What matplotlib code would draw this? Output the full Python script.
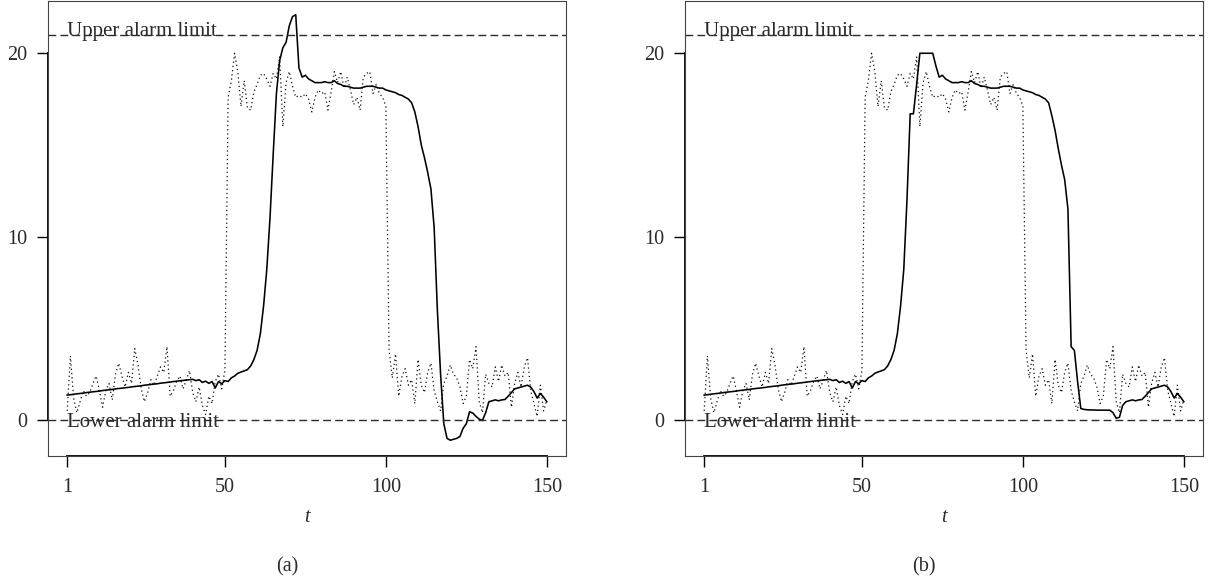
import numpy as np
import matplotlib
matplotlib.use('Agg')
import matplotlib.pyplot as plt

plt.rcParams['font.family'] = ['Liberation Serif', 'DejaVu Serif']

# time index
t = np.arange(1, 151)

# observed series (dotted), same in both panels
obs = [0.5, 3.5, 1.2, 0.4, 1.0, 1.6, 1.3, 1.5, 2.0, 2.4,
       1.6, 0.7, 1.6, 2.0, 1.1, 2.5, 3.1, 2.4, 1.8, 2.6,
       2.0, 3.9, 3.0, 1.7, 1.0, 1.5, 2.2, 1.9, 2.4, 2.9,
       2.6, 4.0, 1.3, 1.6, 2.1, 2.4, 1.7, 2.2, 2.7, 1.5,
       1.0, 1.8, 0.8, 0.3, 1.3, 0.9, 2.1, 2.5, 1.7, 2.7,
       17.6, 18.5, 20.0, 19.0, 17.1, 18.5, 17.0, 16.9, 17.9, 18.3,
       18.8, 18.9, 18.6, 18.2, 18.9, 18.6, 19.8, 16.0, 18.4, 19.0,
       18.2, 17.6, 17.7, 17.6, 17.8, 17.5, 16.8, 17.6, 18.0, 17.8,
       17.9, 16.9, 17.9, 19.0, 18.4, 19.0, 18.1, 18.7, 18.0, 17.2,
       17.6, 16.9, 18.7, 18.9, 19.0, 17.8, 18.3, 17.8, 17.6, 17.1,
       3.8, 2.3, 3.6, 1.3, 2.4, 2.8, 1.9, 2.2, 0.9, 3.3,
       1.9, 1.5, 2.6, 3.1, 1.6, 1.0, 0.5, 2.0, 2.4, 3.0,
       2.5, 2.3, 1.8, 0.9, 1.3, 3.3, 2.8, 4.0, 1.0, 0.4,
       2.5, 2.0, 1.8, 2.9, 2.1, 3.0, 2.4, 2.6, 0.7, 2.0,
       2.6, 1.8, 2.9, 3.4, 1.6, 0.9, 0.2, 1.9, 0.5, 1.1]

# estimate (solid), panel (a)
est_a = [1.36, 1.38, 1.41, 1.43, 1.45, 1.47, 1.50, 1.52, 1.54, 1.56,
         1.58, 1.61, 1.63, 1.65, 1.67, 1.70, 1.72, 1.74, 1.76, 1.78,
         1.81, 1.83, 1.85, 1.87, 1.90, 1.92, 1.94, 1.96, 1.98, 2.01,
         2.03, 2.05, 2.07, 2.10, 2.12, 2.14, 2.16, 2.18, 2.20, 2.22,
         2.15, 2.20, 2.05, 2.12, 2.00, 2.10, 1.75, 2.10, 1.98, 2.15,
         2.10, 2.30, 2.40, 2.55, 2.62, 2.68, 2.75, 2.95, 3.30, 3.80,
         4.70, 6.20, 8.20, 11.0, 14.5, 17.8, 19.6, 20.3, 20.6, 21.5,
         22.0, 22.1, 19.2, 18.7, 18.8, 18.6, 18.5, 18.4, 18.4, 18.4,
         18.45, 18.4, 18.4, 18.5, 18.35, 18.3, 18.2, 18.2, 18.15, 18.1,
         18.1, 18.1, 18.15, 18.2, 18.2, 18.2, 18.15, 18.1, 18.1, 18.0,
         17.95, 17.9, 17.85, 17.75, 17.7, 17.6, 17.5, 17.3, 16.8, 16.0,
         15.0, 14.3, 13.5, 12.6, 10.5, 6.0, 2.5, -0.2, -1.0, -1.1,
         -1.05, -1.0, -0.9, -0.45, -0.2, 0.45, 0.38, 0.2, 0.05, -0.02,
         0.4, 1.0, 1.05, 1.1, 1.05, 1.1, 1.12, 1.3, 1.5, 1.7,
         1.75, 1.8, 1.85, 1.9, 1.8, 1.55, 1.2, 1.45, 1.25, 1.0]

# estimate (solid), panel (b)
est_b = [1.36, 1.38, 1.41, 1.43, 1.45, 1.47, 1.50, 1.52, 1.54, 1.56,
         1.58, 1.61, 1.63, 1.65, 1.67, 1.70, 1.72, 1.74, 1.76, 1.78,
         1.81, 1.83, 1.85, 1.87, 1.90, 1.92, 1.94, 1.96, 1.98, 2.01,
         2.03, 2.05, 2.07, 2.10, 2.12, 2.14, 2.16, 2.18, 2.20, 2.22,
         2.15, 2.20, 2.05, 2.12, 2.00, 2.10, 1.75, 2.10, 1.98, 2.15,
         2.10, 2.30, 2.40, 2.55, 2.62, 2.68, 2.75, 2.95, 3.30, 3.80,
         4.70, 6.20, 8.20, 12.0, 16.7, 16.7, 18.3, 20.0, 20.0, 20.0,
         20.0, 20.0, 19.3, 18.7, 18.8, 18.6, 18.5, 18.4, 18.4, 18.4,
         18.45, 18.4, 18.4, 18.5, 18.35, 18.3, 18.2, 18.2, 18.15, 18.1,
         18.1, 18.1, 18.15, 18.2, 18.2, 18.2, 18.15, 18.1, 18.1, 18.0,
         17.95, 17.9, 17.85, 17.75, 17.7, 17.6, 17.5, 17.3, 16.6, 15.8,
         14.8, 13.9, 13.1, 11.5, 4.0, 3.8, 2.1, 0.63, 0.58, 0.56,
         0.55, 0.55, 0.54, 0.54, 0.54, 0.54, 0.54, 0.4, 0.1, 0.15,
         0.8, 1.0, 1.05, 1.1, 1.05, 1.1, 1.12, 1.3, 1.5, 1.7,
         1.75, 1.8, 1.85, 1.9, 1.8, 1.55, 1.2, 1.45, 1.25, 1.0]

upper = 21
lower = 0
xticks = [1, 50, 100, 150]
yticks = [0, 10, 20]

FS = 14.5
TXT = '#2b2b2b'


def draw(ax, est):
	ax.plot(t, obs, color='#111111', lw=0.9, ls=(0, (1.0, 2.4)))
	ax.plot(t, est, color='black', lw=1.15)
	dash = (0, (5.6, 3.0))
	ax.axhline(upper, color='#2b2b2b', lw=1.0, ls=dash)
	ax.axhline(lower, color='#2b2b2b', lw=1.0, ls=dash)
	ax.text(0.8, upper + 0.3, 'Upper alarm limit', ha='left', va='center_baseline',
			fontsize=15, color=TXT)
	ax.text(0.8, lower, 'Lower alarm limit', ha='left', va='center_baseline',
			fontsize=15, color=TXT)

	ax.set_xlim(-4.96, 155.96)
	ax.set_ylim(-1.96, 22.85)
	ax.set_xticks(xticks)
	ax.set_yticks(yticks)
	ax.tick_params(direction='out', length=7.9, width=1.0, color='black',
				   labelsize=FS, labelcolor=TXT)
	ax.tick_params(axis='x', pad=8.0)
	ax.tick_params(axis='y', pad=7.0)
	for s in ax.spines.values():
		s.set_color('#444444')
		s.set_linewidth(0.8)
	# R style axis lines between first and last tick
	ax.plot([1, 150], [0, 0], transform=ax.get_xaxis_transform(),
			color='black', lw=1.3, clip_on=False)
	ax.plot([0, 0], [0, 20], transform=ax.get_yaxis_transform(),
			color='black', lw=1.3, clip_on=False)


W, H = 1209, 586
fig = plt.figure(figsize=(W / 100, H / 100), dpi=100)

panels = [(48, est_a, '(a)'), (685, est_b, '(b)')]
for left, est, tag in panels:
	ax = fig.add_axes([left / W, (H - 456) / H, 518 / W, 455 / H])
	draw(ax, est)
	xc = left + 259
	fig.text(xc / W, 1 - 518 / H, 't', ha='center', va='center',
			 fontsize=FS, style='italic', color=TXT)
	fig.text((xc - 20) / W, 1 - 567 / H, tag, ha='center', va='center',
			 fontsize=FS, color=TXT)

fig.savefig('out.png', dpi=100)
